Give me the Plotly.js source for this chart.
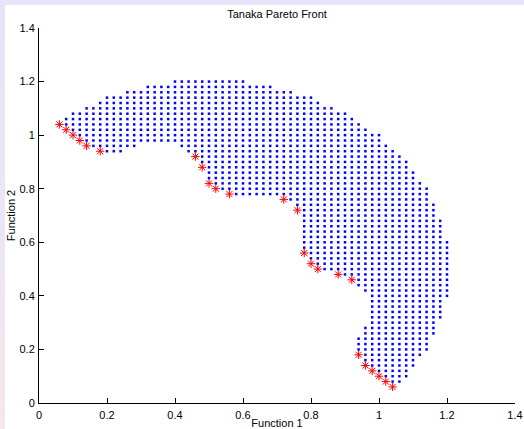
<!DOCTYPE html>
<html>
<head>
<meta charset="utf-8">
<script src="https://cdn.plot.ly/plotly-3.0.1.min.js"></script>
<style>
  html, body { margin: 0; padding: 0; width: 524px; height: 429px; overflow: hidden;
    background: linear-gradient(to bottom, #e6e4f8 0%, #ece5f5 50%, #f6e6ee 100%); }
  #plot { position: absolute; left: 5px; top: 5px; width: 519px; height: 424px; }
</style>
</head>
<body>
<div id="plot"></div>
<script>
// Grid columns (Function 1 values): step 0.02
const xGrid = [
  0.00, 0.02, 0.04, 0.06, 0.08, 0.10, 0.12, 0.14, 0.16, 0.18,
  0.20, 0.22, 0.24, 0.26, 0.28, 0.30, 0.32, 0.34, 0.36, 0.38,
  0.40, 0.42, 0.44, 0.46, 0.48, 0.50, 0.52, 0.54, 0.56, 0.58,
  0.60, 0.62, 0.64, 0.66, 0.68, 0.70, 0.72, 0.74, 0.76, 0.78,
  0.80, 0.82, 0.84, 0.86, 0.88, 0.90, 0.92, 0.94, 0.96, 0.98,
  1.00, 1.02, 1.04, 1.06, 1.08, 1.10, 1.12, 1.14, 1.16, 1.18,
  1.20
];
// Grid rows (Function 2 values), top to bottom
const yRows = [
  1.20, 1.18, 1.16, 1.14, 1.12, 1.10, 1.08, 1.06, 1.04, 1.02,
  1.00, 0.98, 0.96, 0.94, 0.92, 0.90, 0.88, 0.86, 0.84, 0.82,
  0.80, 0.78, 0.76, 0.74, 0.72, 0.70, 0.68, 0.66, 0.64, 0.62,
  0.60, 0.58, 0.56, 0.54, 0.52, 0.50, 0.48, 0.46, 0.44, 0.42,
  0.40, 0.38, 0.36, 0.34, 0.32, 0.30, 0.28, 0.26, 0.24, 0.22,
  0.20, 0.18, 0.16, 0.14, 0.12, 0.10, 0.08, 0.06
];
// Blue feasible dots, one string per row: 'o' = dot present at that xGrid column
// (groups of 10 columns separated by '|')
const dotRows = [
  "..........|..........|oooooooooo|o.........|..........|..........|.", // 1.20
  "..........|......oooo|oooooooooo|ooooo.....|..........|..........|.", // 1.18
  "..........|...ooooooo|oooooooooo|oooooooo..|..........|..........|.", // 1.16
  "..........|oooooooooo|oooooooooo|oooooooooo|o.........|..........|.", // 1.14
  ".........o|oooooooooo|oooooooooo|oooooooooo|oo........|..........|.", // 1.12
  ".......ooo|oooooooooo|oooooooooo|oooooooooo|oooo......|..........|.", // 1.10
  ".....ooooo|oooooooooo|oooooooooo|oooooooooo|oooooo....|..........|.", // 1.08
  "....oooooo|oooooooooo|oooooooooo|oooooooooo|ooooooo...|..........|.", // 1.06
  "....oooooo|oooooooooo|oooooooooo|oooooooooo|oooooooo..|..........|.", // 1.04
  ".....ooooo|oooooooooo|oooooooooo|oooooooooo|ooooooooo.|..........|.", // 1.02
  "......oooo|oooooooooo|oooooooooo|oooooooooo|oooooooooo|o.........|.", // 1.00
  ".......ooo|oooooooooo|oooooooooo|oooooooooo|oooooooooo|o.........|.", // 0.98
  "........oo|ooooo.....|.ooooooooo|oooooooooo|oooooooooo|oo........|.", // 0.96
  "..........|ooo.......|..oooooooo|oooooooooo|oooooooooo|ooo.......|.", // 0.94
  "..........|..........|....oooooo|oooooooooo|oooooooooo|oooo......|.", // 0.92
  "..........|..........|....oooooo|oooooooooo|oooooooooo|ooooo.....|.", // 0.90
  "..........|..........|.....ooooo|oooooooooo|oooooooooo|ooooo.....|.", // 0.88
  "..........|..........|.....ooooo|oooooooooo|oooooooooo|oooooo....|.", // 0.86
  "..........|..........|.....ooooo|oooooooooo|oooooooooo|oooooo....|.", // 0.84
  "..........|..........|......oooo|oooooooooo|oooooooooo|ooooooo...|.", // 0.82
  "..........|..........|.......ooo|oooooooooo|oooooooooo|oooooooo..|.", // 0.80
  "..........|..........|.........o|oooooooooo|oooooooooo|oooooooo..|.", // 0.78
  "..........|..........|..........|.......ooo|oooooooooo|oooooooo..|.", // 0.76
  "..........|..........|..........|........oo|oooooooooo|ooooooooo.|.", // 0.74
  "..........|..........|..........|.........o|oooooooooo|ooooooooo.|.", // 0.72
  "..........|..........|..........|.........o|oooooooooo|ooooooooo.|.", // 0.70
  "..........|..........|..........|.........o|oooooooooo|oooooooooo|.", // 0.68
  "..........|..........|..........|.........o|oooooooooo|oooooooooo|.", // 0.66
  "..........|..........|..........|.........o|oooooooooo|oooooooooo|.", // 0.64
  "..........|..........|..........|.........o|oooooooooo|oooooooooo|.", // 0.62
  "..........|..........|..........|.........o|oooooooooo|oooooooooo|o", // 0.60
  "..........|..........|..........|.........o|oooooooooo|oooooooooo|o", // 0.58
  "..........|..........|..........|..........|oooooooooo|oooooooooo|o", // 0.56
  "..........|..........|..........|..........|oooooooooo|oooooooooo|o", // 0.54
  "..........|..........|..........|..........|.ooooooooo|oooooooooo|o", // 0.52
  "..........|..........|..........|..........|..oooooooo|oooooooooo|o", // 0.50
  "..........|..........|..........|..........|.....ooooo|oooooooooo|o", // 0.48
  "..........|..........|..........|..........|.......ooo|oooooooooo|o", // 0.46
  "..........|..........|..........|..........|.......ooo|oooooooooo|o", // 0.44
  "..........|..........|..........|..........|........oo|oooooooooo|o", // 0.42
  "..........|..........|..........|..........|.........o|oooooooooo|o", // 0.40
  "..........|..........|..........|..........|.........o|oooooooooo|.", // 0.38
  "..........|..........|..........|..........|.........o|oooooooooo|.", // 0.36
  "..........|..........|..........|..........|.........o|oooooooooo|.", // 0.34
  "..........|..........|..........|..........|.........o|oooooooooo|.", // 0.32
  "..........|..........|..........|..........|.........o|ooooooooo.|.", // 0.30
  "..........|..........|..........|..........|........oo|ooooooooo.|.", // 0.28
  "..........|..........|..........|..........|........oo|ooooooooo.|.", // 0.26
  "..........|..........|..........|..........|.......ooo|oooooooo..|.", // 0.24
  "..........|..........|..........|..........|.......ooo|oooooooo..|.", // 0.22
  "..........|..........|..........|..........|.......ooo|oooooooo..|.", // 0.20
  "..........|..........|..........|..........|........oo|ooooooo...|.", // 0.18
  "..........|..........|..........|..........|........oo|oooooo....|.", // 0.16
  "..........|..........|..........|..........|.........o|oooooo....|.", // 0.14
  "..........|..........|..........|..........|..........|ooooo.....|.", // 0.12
  "..........|..........|..........|..........|..........|.oooo.....|.", // 0.10
  "..........|..........|..........|..........|..........|..oo......|.", // 0.08
  "..........|..........|..........|..........|..........|..........|."  // 0.06
];
// Red asterisks: Pareto front points
const starX = [0.06, 0.08, 0.10, 0.12, 0.14, 0.18, 0.46, 0.48, 0.50, 0.52, 0.56, 0.72,
               0.76, 0.78, 0.80, 0.82, 0.88, 0.92, 0.94, 0.96, 0.98, 1.00, 1.02, 1.04];
const starY = [1.04, 1.02, 1.00, 0.98, 0.96, 0.94, 0.92, 0.88, 0.82, 0.80, 0.78, 0.76,
               0.72, 0.56, 0.52, 0.50, 0.48, 0.46, 0.18, 0.14, 0.12, 0.10, 0.08, 0.06];
const xTicks = [0, 0.2, 0.4, 0.6, 0.8, 1, 1.2, 1.4];
const yTicks = [0, 0.2, 0.4, 0.6, 0.8, 1, 1.2, 1.4];

if (dotRows.length !== yRows.length) throw new Error("row count mismatch " + dotRows.length);
const dotX = [], dotY = [];
dotRows.forEach(function (row, r) {
  const cells = row.replace(/\|/g, "");
  if (cells.length !== xGrid.length) throw new Error("bad row length at " + yRows[r] + ": " + cells.length);
  for (let i = 0; i < cells.length; i++) {
    if (cells[i] === "o") { dotX.push(xGrid[i]); dotY.push(yRows[r]); }
  }
});

const FONT = "Liberation Sans, Arial, Helvetica, sans-serif";

const traces = [
  { type: "scatter", mode: "markers", x: dotX, y: dotY, hoverinfo: "skip",
    marker: { symbol: "square", size: 2.5, color: "#0000ff", line: { width: 0 } } },
  { type: "scatter", mode: "markers", x: starX, y: starY, hoverinfo: "skip",
    marker: { symbol: "asterisk-open", size: 7, color: "#ff0000", line: { color: "#ff0000", width: 1 } } }
];

const axisCommon = {
  range: [0, 1.4], autorange: false, showgrid: false, zeroline: false,
  showline: true, linecolor: "#000000", linewidth: 1, mirror: false,
  ticks: "inside", ticklen: 5, tickwidth: 1, tickcolor: "#000000",
  ticklabeloverflow: "allow",
  tickfont: { family: FONT, size: 11, color: "#000000" }
};

const layout = {
  width: 519, height: 424,
  margin: { l: 34, r: 9, t: 23, b: 26, pad: 0 },
  paper_bgcolor: "#ffffff", plot_bgcolor: "#ffffff",
  showlegend: false,
  title: { text: "Tanaka Pareto Front", font: { family: FONT, size: 11, color: "#000000" },
           xref: "paper", x: 0.5, xanchor: "center", yref: "container", y: 0.979, yanchor: "middle" },
  xaxis: Object.assign({}, axisCommon, {
    tickvals: xTicks, ticktext: xTicks.map(String), ticklabelstandoff: 2,
    title: { text: "Function 1", font: { family: FONT, size: 11, color: "#000000" }, standoff: 5 }
  }),
  yaxis: Object.assign({}, axisCommon, {
    tickvals: yTicks, ticktext: yTicks.map(String), ticklabelstandoff: 1,
    title: { text: "Function 2", font: { family: FONT, size: 11, color: "#000000" }, standoff: 3 }
  })
};

Plotly.newPlot("plot", traces, layout, { staticPlot: true, displayModeBar: false });
</script>
</body>
</html>
